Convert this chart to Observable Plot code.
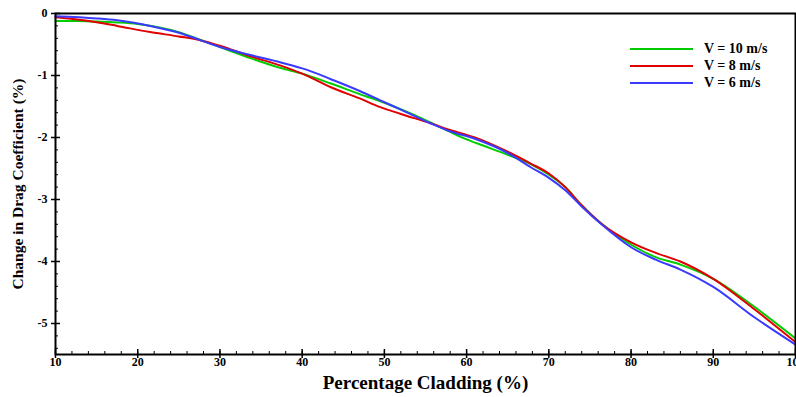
<!DOCTYPE html>
<html>
<head>
<meta charset="utf-8">
<script src="https://cdn.jsdelivr.net/npm/d3@7"></script>
<script src="https://cdn.jsdelivr.net/npm/@observablehq/plot@0.6"></script>
<style>
  html, body { margin: 0; padding: 0; background: #fff; }
  #wrap { position: relative; width: 796px; height: 397px; }
  #legend { position: absolute; left: 630px; top: 40px; font-family: "Liberation Serif", "Times New Roman", serif; font-weight: bold; font-size: 14px; }
  #legend .row { display: flex; align-items: center; height: 17px; }
  #legend svg { margin-right: 11px; }
</style>
</head>
<body>
<div id="wrap"><div id="legend"></div></div>
<script>
// Data
const series = ["V = 10 m/s", "V = 8 m/s", "V = 6 m/s"];
const colors = ["#00cc00", "#e00000", "#3a3aff"];

const xV10 = [10, 12.5, 15, 17.5, 20, 22.5, 25, 27.5, 30, 33.7, 37.4, 40, 43.5, 47, 50, 55, 58, 60, 62, 65, 67.8, 70, 72, 73.9, 76.4, 80, 83, 86, 90, 95, 100];
const yV10 = [-0.12, -0.12, -0.13, -0.145, -0.17, -0.22, -0.30, -0.42, -0.54, -0.72, -0.88, -0.97, -1.13, -1.30, -1.44, -1.72, -1.91, -2.03, -2.13, -2.28, -2.43, -2.60, -2.80, -3.08, -3.39, -3.73, -3.93, -4.05, -4.28, -4.73, -5.24];

const xV8 = [10, 15, 17.5, 21.5, 25, 27.6, 30, 33.7, 37.4, 40, 43.5, 47, 49.5, 52, 55.6, 58, 61, 65, 67.8, 70, 72, 73.9, 76.4, 80, 83, 86, 90, 95, 100];
const yV8 = [-0.06, -0.14, -0.20, -0.30, -0.37, -0.43, -0.52, -0.69, -0.84, -0.97, -1.19, -1.37, -1.51, -1.62, -1.77, -1.88, -2.00, -2.23, -2.42, -2.58, -2.80, -3.08, -3.39, -3.69, -3.86, -4.00, -4.28, -4.77, -5.30];

const xV6 = [10, 15, 17.5, 21.5, 25, 27.6, 30, 33.7, 37.4, 40.6, 43.5, 47, 49.5, 52, 55.6, 58, 61, 65, 67.8, 70, 72, 73.9, 76.4, 80, 83, 86, 90, 95, 100];
const yV6 = [-0.045, -0.08, -0.11, -0.20, -0.31, -0.43, -0.54, -0.67, -0.79, -0.91, -1.06, -1.25, -1.40, -1.55, -1.77, -1.90, -2.02, -2.25, -2.48, -2.65, -2.85, -3.10, -3.40, -3.77, -3.97, -4.13, -4.41, -4.90, -5.34];

const xTicks = [10, 20, 30, 40, 50, 60, 70, 80, 90, 100];
const yTicks = [0, -1, -2, -3, -4, -5];
const xMinor = d3.range(10, 100.001, 2);
const yMinor = d3.range(-5.4, 0.001, 0.2).map(v => +v.toFixed(1));

const xTitle = "Percentage Cladding (%)";
const yTitle = "Change in Drag Coefficient (%)";

const rows = [];
[[xV10, yV10], [xV8, yV8], [xV6, yV6]].forEach(([xs, ys], i) => {
  xs.forEach((x, j) => rows.push({series: series[i], x, y: ys[j]}));
});

const W = 796, H = 397;
const mL = 55, mR = 1, mT = 13, mB = 43;
const pw = W - mL - mR, ph = H - mT - mB;

const chart = Plot.plot({
  width: W, height: H,
  marginLeft: mL, marginRight: mR, marginTop: mT, marginBottom: mB,
  style: {fontFamily: "'Liberation Serif', 'Times New Roman', serif", fontSize: "12px", fontWeight: "bold", background: "#fff", color: "#000"},
  x: {domain: [10, 100]},
  y: {domain: [-5.5, 0]},
  color: {domain: series, range: colors},
  marks: [
    Plot.line(rows, {x: "x", y: "y", z: "series", stroke: "series", strokeWidth: 2, curve: "monotone-x"}),
    Plot.frame({stroke: "#000", strokeWidth: 2}),
    // minor ticks (inside)
    Plot.tickX(xMinor, {x: d => d, insetTop: ph - 3, stroke: "#000", strokeWidth: 1}),
    Plot.tickY(yMinor, {y: d => d, insetRight: pw - 3, stroke: "#000", strokeWidth: 1}),
    // major ticks (crossing)
    Plot.tickX(xTicks, {x: d => d, insetTop: ph - 5, insetBottom: -4, stroke: "#000", strokeWidth: 1.5}),
    Plot.tickY(yTicks, {y: d => d, insetRight: pw - 5, insetLeft: -4, stroke: "#000", strokeWidth: 1.5}),
    Plot.axisX({ticks: xTicks, tickSize: 0, tickPadding: 3, tickFormat: d => String(d), label: null, fontSize: 12, fontWeight: "bold"}),
    Plot.axisY({ticks: yTicks, tickSize: 0, tickPadding: 8, tickFormat: d => String(d), label: null, fontSize: 12, fontWeight: "bold"}),
    Plot.text([xTitle], {text: d => d, frameAnchor: "bottom", dy: 28, lineAnchor: "middle", fontSize: 19, fontWeight: "bold", fill: "#000"}),
    Plot.text([yTitle], {text: d => d, frameAnchor: "left", textAnchor: "middle", lineAnchor: "middle", rotate: -90, dx: -37, fontSize: 15.5, fontWeight: "bold", fill: "#000"})
  ]
});
document.getElementById("wrap").prepend(chart);

const legend = document.getElementById("legend");
series.forEach((s, i) => {
  const row = document.createElement("div");
  row.className = "row";
  row.innerHTML = `<svg width="63" height="4"><line x1="0" x2="63" y1="2" y2="2" stroke="${colors[i]}" stroke-width="2"/></svg><span>${s}</span>`;
  legend.appendChild(row);
});
</script>
</body>
</html>
